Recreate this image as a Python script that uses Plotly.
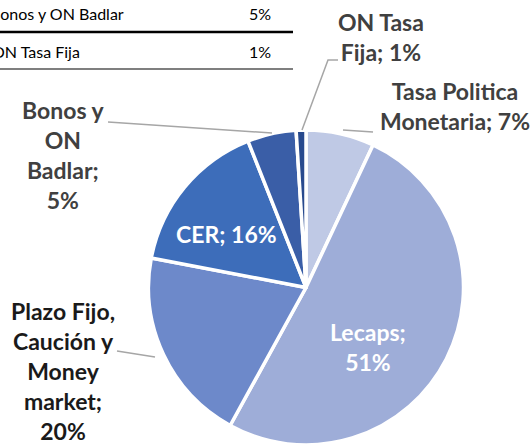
import plotly.graph_objects as go

# ---- data ----
categories = ["Tasa Politica Monetaria", "Lecaps", "Plazo Fijo, Caución y Money market",
              "CER", "Bonos y ON Badlar", "ON Tasa Fija"]
values = [7, 51, 20, 16, 5, 1]
slice_colors = ["#bfc9e5", "#9eadd8", "#6d89ca", "#3d6dba", "#3a5ea7", "#284a8e"]

label_texts = {
    "Tasa Politica Monetaria": "Tasa Politica<br>Monetaria; 7%",
    "Lecaps": "Lecaps;<br>51%",
    "Plazo Fijo, Caución y Money market": "Plazo Fijo,<br>Caución y<br>Money<br>market;<br>20%",
    "CER": "CER; 16%",
    "Bonos y ON Badlar": "Bonos y<br>ON<br>Badlar;<br>5%",
    "ON Tasa Fija": "ON Tasa<br>Fija; 1%",
}

table_rows = ["Bonos y ON Badlar", "ON Tasa Fija"]
table_vals = ["5%", "1%"]

W, H = 531, 445
FONT = "Lato"


def px(x):
    return x / W


def py(y):
    return 1 - y / H


fig = go.Figure()
fig.add_trace(go.Pie(
    labels=categories, values=values, sort=False, direction="clockwise", rotation=0,
    marker=dict(colors=slice_colors, line=dict(color="white", width=3.5)),
    textinfo="none", hoverinfo="label+percent", showlegend=False,
    domain=dict(x=[px(148), px(464)], y=[0.0, py(130)]),
))

annotations = []
# label positions (pixel centres) and styles
pos = {
    "Tasa Politica Monetaria": (455, 106, "#404040", 23),
    "Lecaps": (368, 347, "white", 23),
    "Plazo Fijo, Caución y Money market": (63, 371, "#1a1a1a", 23),
    "CER": (226, 234, "white", 23),
    "Bonos y ON Badlar": (63, 155, "#404040", 23),
    "ON Tasa Fija": (381, 37, "#404040", 23),
}
for cat in categories:
    x, y, col, fs = pos[cat]
    annotations.append(dict(
        x=px(x), y=py(y), xref="paper", yref="paper", text="<b>" + label_texts[cat] + "</b>",
        showarrow=False, xanchor="center", yanchor="middle", align="center",
        font=dict(family=FONT, size=fs, color=col)))

# table fragment (cut off at the left edge, as in the source)
row_y = [14, 51]
row_x = [-12, -10]
for name, v, y, x0 in zip(table_rows, table_vals, row_y, row_x):
    annotations.append(dict(x=px(x0), y=py(y), xref="paper", yref="paper", text=name,
                            showarrow=False, xanchor="left", yanchor="middle",
                            font=dict(family=FONT, size=16, color="black")))
    annotations.append(dict(x=px(273), y=py(y), xref="paper", yref="paper", text=v,
                            showarrow=False, xanchor="right", yanchor="middle",
                            font=dict(family=FONT, size=16, color="black")))

shapes = [
    dict(type="line", xref="paper", yref="paper", x0=0, x1=px(293), y0=py(32), y1=py(32),
         line=dict(color="black", width=2.5)),
    dict(type="line", xref="paper", yref="paper", x0=0, x1=px(293), y0=py(69), y1=py(69),
         line=dict(color="black", width=1.2)),
]
leader = dict(color="#a6a6a6", width=1.5)
leaders = [
    [(338, 60), (328, 60), (302, 130)],
    [(343, 130), (373, 132)],
    [(108, 122), (272, 133)],
    [(117, 351), (155, 357)],
]
for pts in leaders:
    path = "M " + " L ".join(f"{px(a)},{py(b)}" for a, b in pts)
    shapes.append(dict(type="path", xref="paper", yref="paper", path=path, line=leader))

fig.update_layout(
    width=W, height=H, margin=dict(l=0, r=0, t=0, b=0),
    paper_bgcolor="white", plot_bgcolor="white",
    annotations=annotations, shapes=shapes,
)
fig.write_html("out.html", config={"displayModeBar": False},
               post_script="document.body.style.margin='0';document.body.style.overflow='hidden';")
